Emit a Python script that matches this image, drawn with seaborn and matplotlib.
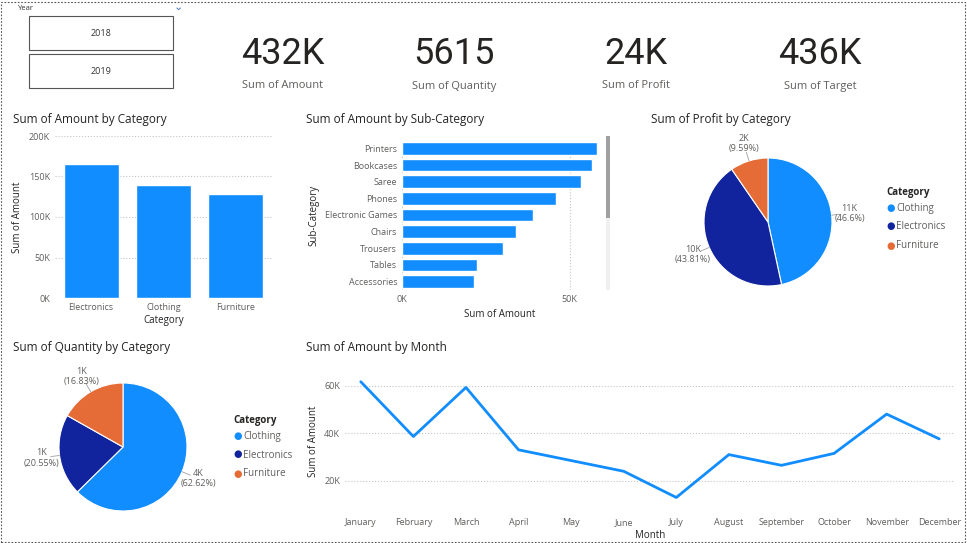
import numpy as np
import pandas as pd
import matplotlib
matplotlib.use("Agg")
import matplotlib.pyplot as plt
import seaborn as sns
from matplotlib.patches import Rectangle
from matplotlib.ticker import FuncFormatter

sns.set_style("white")
plt.rcParams['font.family'] = ['Open Sans', 'DejaVu Sans']

BLUE = '#118DFF'
NAVY = '#12239E'
ORANGE = '#E66C37'
GREY = '#605E5C'

# ---- data ----
years = ['2018', '2019']
kpi_values = ['432K', '5615', '24K', '436K']
kpi_labels = ['Sum of Amount', 'Sum of Quantity', 'Sum of Profit', 'Sum of Target']

categories = ['Electronics', 'Clothing', 'Furniture']
cat_amount = [166000, 140000, 128000]

sub_categories = ['Printers', 'Bookcases', 'Saree', 'Phones', 'Electronic Games',
                  'Chairs', 'Trousers', 'Tables', 'Accessories']
sub_amount = [58200, 56800, 53400, 46100, 39000, 34000, 30000, 22500, 21600]

pie_cats = ['Clothing', 'Electronics', 'Furniture']
profit_share = [46.6, 43.81, 9.59]
profit_text = ['11K', '10K', '2K']
qty_share = [62.62, 20.55, 16.83]
qty_text = ['4K', '1K', '1K']

months = ['January', 'February', 'March', 'April', 'May', 'June', 'July',
          'August', 'September', 'October', 'November', 'December']
month_amount = [61600, 38600, 59200, 33000, 28500, 24000, 13000,
                31000, 26500, 31500, 48000, 37600]

W, H = 967, 543
fig = plt.figure(figsize=(W / 100, H / 100), dpi=100)
fig.patch.set_facecolor('white')


def ax_px(x0, y0, x1, y1):
    return fig.add_axes([x0 / W, 1 - y1 / H, (x1 - x0) / W, (y1 - y0) / H])


def kfmt(v, _):
    return f"{int(round(v / 1000))}K"


def style_axis(ax, grid_axis='y'):
    for s in ax.spines.values():
        s.set_visible(False)
    ax.grid(axis=grid_axis, color='#C8C6C4', linestyle=':', linewidth=0.8)
    ax.set_axisbelow(True)
    ax.tick_params(length=0, labelsize=6.5, labelcolor=GREY)


# dashed frame
fig.add_artist(Rectangle((1 / W, 1 / H), 1 - 3 / W, 1 - 3 / H, transform=fig.transFigure,
                         fill=False, linestyle=(0, (1.5, 1.5)), edgecolor='#555555', lw=0.8))

# ---- slicer ----
fig.text(18 / W, 1 - 8 / H, 'Year', fontsize=5.5, color='#333333', va='center')
fig.text(178 / W, 1 - 8 / H, '⌄', fontsize=8, color='#4472C4', va='center', ha='center')
for i, y in enumerate(years):
    top = 16 + i * 38
    fig.add_artist(Rectangle((29 / W, 1 - (top + 34) / H), 144 / W, 34 / H,
                             transform=fig.transFigure, fill=False, edgecolor='#555555', lw=0.8))
    fig.text(101 / W, 1 - (top + 17) / H, y, fontsize=6.5, color='#333333', ha='center', va='center')

# ---- KPI cards ----
kpi_x = [283, 454, 636, 820]
for x, v, l in zip(kpi_x, kpi_values, kpi_labels):
    fig.text(x / W, 1 - 54 / H, v, fontsize=26, color='#252423', ha='center', va='center',
             family=['Roboto', 'DejaVu Sans'])
    fig.text(x / W, 1 - 86 / H, l, fontsize=8, color=GREY, ha='center', va='center')

# ---- Sum of Amount by Category ----
fig.text(13 / W, 1 - 120 / H, 'Sum of Amount by Category', fontsize=8.5, color='#252423', va='center')
ax1 = ax_px(55, 136, 272, 298)
df_cat = pd.DataFrame({'Category': categories, 'Amount': cat_amount})
sns.barplot(data=df_cat, x='Category', y='Amount', color=BLUE, saturation=1, width=0.76, ax=ax1)
ax1.set_ylim(0, 200000)
ax1.set_yticks([0, 50000, 100000, 150000, 200000])
ax1.yaxis.set_major_formatter(FuncFormatter(kfmt))
style_axis(ax1)
ax1.set_xlabel('Category', fontsize=7, color='#252423', labelpad=2)
ax1.set_ylabel('Sum of Amount', fontsize=7, color='#252423')

# ---- Sum of Amount by Sub-Category ----
fig.text(306 / W, 1 - 120 / H, 'Sum of Amount by Sub-Category', fontsize=8.5, color='#252423', va='center')
ax2 = ax_px(402, 140, 598, 290)
df_sub = pd.DataFrame({'Sub-Category': sub_categories, 'Amount': sub_amount})
sns.barplot(data=df_sub, y='Sub-Category', x='Amount', color=BLUE, saturation=1, width=0.76, ax=ax2)
ax2.set_xlim(0, 58500)
ax2.set_xticks([0, 50000])
ax2.xaxis.set_major_formatter(FuncFormatter(kfmt))
style_axis(ax2, 'x')
ax2.set_xlabel('Sum of Amount', fontsize=7, color='#252423')
ax2.set_ylabel('Sub-Category', fontsize=7, color='#252423')
# scrollbar
fig.add_artist(Rectangle((606 / W, 1 - 290 / H), 4 / W, 154 / H, transform=fig.transFigure,
                         color='#F0F0F0', lw=0))
fig.add_artist(Rectangle((606 / W, 1 - 218 / H), 4 / W, 82 / H, transform=fig.transFigure,
                         color='#A0A0A0', lw=0))


# ---- pies ----
def draw_pie(ax, shares, texts):
    labels = [f"{t}\n({s}%)" for t, s in zip(texts, shares)]
    wedges, tx = ax.pie(shares, colors=[BLUE, NAVY, ORANGE], startangle=90, counterclock=False,
                        wedgeprops=dict(edgecolor='white', linewidth=0.8),
                        labels=labels, labeldistance=1.28,
                        textprops=dict(fontsize=6.5, color=GREY, ha='center'))
    for w in wedges:
        ang = np.deg2rad((w.theta1 + w.theta2) / 2)
        ax.plot([np.cos(ang), 1.14 * np.cos(ang)], [np.sin(ang), 1.14 * np.sin(ang)],
                color='#A0A0A0', lw=0.6)
    ax.set_aspect('equal')


def pie_legend(x, y):
    fig.text(x / W, 1 - y / H, 'Category', fontsize=7, color='#252423', weight='bold', va='center')
    for i, (c, col) in enumerate(zip(pie_cats, [BLUE, NAVY, ORANGE])):
        yy = y + 16 + i * 19
        fig.text(x / W, 1 - yy / H, '●', fontsize=7, color=col, va='center')
        fig.text((x + 10) / W, 1 - yy / H, c, fontsize=7, color=GREY, va='center')


fig.text(651 / W, 1 - 120 / H, 'Sum of Profit by Category', fontsize=8.5, color='#252423', va='center')
ax3 = ax_px(688, 142, 848, 302)
draw_pie(ax3, profit_share, profit_text)
pie_legend(886, 192)

fig.text(13 / W, 1 - 347 / H, 'Sum of Quantity by Category', fontsize=8.5, color='#252423', va='center')
ax4 = ax_px(43, 367, 203, 527)
draw_pie(ax4, qty_share, qty_text)
pie_legend(233, 420)

# ---- Sum of Amount by Month ----
fig.text(306 / W, 1 - 347 / H, 'Sum of Amount by Month', fontsize=8.5, color='#252423', va='center')
ax5 = ax_px(345, 376, 955, 507)
df_m = pd.DataFrame({'Month': months, 'Amount': month_amount})
sns.lineplot(data=df_m, x='Month', y='Amount', color=BLUE, linewidth=2, sort=False, ax=ax5)
ax5.set_xlim(-0.3, 11.3)
ax5.set_ylim(9000, 64000)
ax5.set_yticks([20000, 40000, 60000])
ax5.yaxis.set_major_formatter(FuncFormatter(kfmt))
style_axis(ax5)
ax5.tick_params(axis='x', pad=8)
ax5.set_xlabel('Month', fontsize=7, color='#252423', labelpad=2)
ax5.set_ylabel('Sum of Amount', fontsize=7, color='#252423')

fig.savefig('out.png', dpi=100, facecolor='white')
